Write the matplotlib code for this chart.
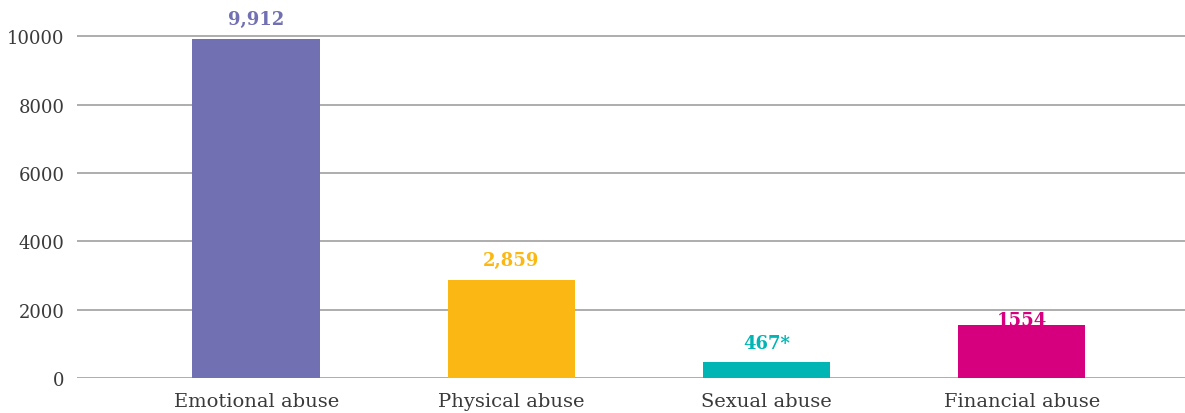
import matplotlib.pyplot as plt

# abuse types reported, counts per category
categories = ["Emotional abuse", "Physical abuse", "Sexual abuse", "Financial abuse"]
counts = [9912, 2859, 467, 1554]
value_labels = ["9,912", "2,859", "467*", "1554"]
colors = ["#7170B3", "#FBB814", "#00B5B3", "#D6007F"]
yticks = [0, 2000, 4000, 6000, 8000, 10000]

fig = plt.figure(figsize=(11.85, 4.14), dpi=100)
ax = fig.add_axes([77 / 1185, 35 / 414, 1 - 77 / 1185, 376 / 414])

x = range(len(categories))
bars = ax.bar(x, counts, width=0.5, color=colors, zorder=3)

# value labels above bars, the last one sits a bit lower like the original
offsets = [8, 8, 7, -3]
for i, b in enumerate(bars):
    ax.annotate(value_labels[i], (b.get_x() + b.get_width() / 2, b.get_height()),
                xytext=(0, offsets[i]), textcoords="offset points",
                ha="center", va="bottom", color=colors[i],
                fontsize=13, fontweight="bold", family="DejaVu Serif", zorder=4)

ax.set_xlim(-0.702, 3.64)
ax.set_ylim(0, 11000)
ax.set_yticks(yticks)
ax.set_yticklabels([str(t) for t in yticks], family="DejaVu Serif", fontsize=13, color="#3a3a3a")
ax.set_xticks(list(x))
ax.set_xticklabels(categories, family="DejaVu Serif", fontsize=14, color="#3a3a3a")
ax.tick_params(axis="y", length=0, pad=9)
ax.tick_params(axis="x", length=0, pad=10)
ax.grid(axis="y", color="#a0a0a0", linewidth=1.2, zorder=0)
for s in ax.spines.values():
    s.set_visible(False)

fig.savefig("out.png", dpi=100)
